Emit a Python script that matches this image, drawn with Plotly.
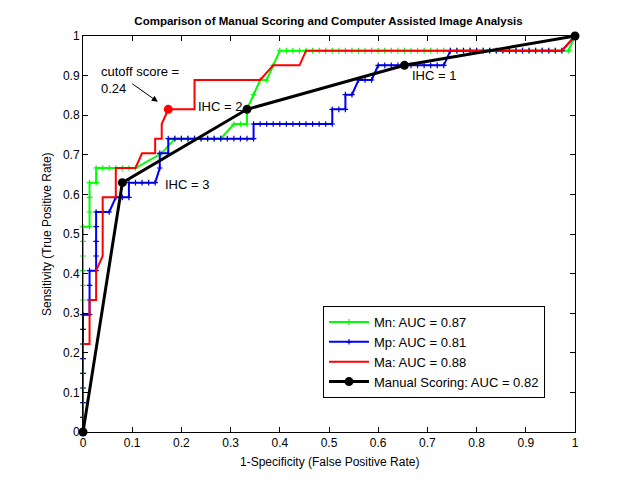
import plotly.graph_objects as go

N_NEG = 75
N_POS = 27

# Mn (green): false-positive counts / true-positive counts along the ROC curve
MN_FP = [0, 0, 0, 0, 0, 0, 0, 0, 0, 0, 0, 0, 0, 0, 0,
         1, 1, 1, 1, 2, 2, 3, 4, 5, 6, 7, 8, 12,
         14, 15, 16, 17, 18, 19, 20, 21, 23, 24, 25, 25, 26, 27, 28, 29, 30,
         31, 32, 33, 34, 35, 36, 37, 38, 39, 40, 41, 42, 43, 44, 45, 46, 47, 48, 49, 50,
         51, 52, 53, 54, 55, 56, 57, 58, 59, 60, 61, 62, 63, 64, 65, 66, 67, 68, 69, 70,
         71, 72, 73, 74, 75]
MN_TP = [0, 1, 2, 3, 4, 5, 6, 7, 8, 9, 10, 11, 12, 13, 14,
         14, 15, 16, 17, 17, 18, 18, 18, 18, 18, 18, 18, 19,
         20, 20, 20, 20, 20, 20, 20, 20, 21, 21, 21, 22, 23, 24, 24, 25, 26,
         26, 26, 26, 26, 26, 26, 26, 26, 26, 26, 26, 26, 26, 26, 26, 26, 26, 26, 26, 26,
         26, 26, 26, 26, 26, 26, 26, 26, 26, 26, 26, 26, 26, 26, 26, 26, 26, 26, 26, 26,
         26, 26, 26, 26, 27]

# Mp (blue)
MP_FP = [0, 0, 0, 0, 0, 0, 0, 0, 0,
         1, 1, 1, 1, 2, 2, 2, 2, 2, 3, 4, 5, 6, 7, 7, 8, 9, 10, 11, 11.7, 11.7, 13, 13,
         14, 15, 16, 17, 18, 19, 20, 21, 22, 23, 24, 25, 26, 26,
         27, 28, 29, 30, 31, 32, 33, 34, 35, 36, 37, 38, 38, 39, 40, 40, 41, 42, 43, 44,
         45, 46, 47, 48, 49, 50, 51, 52, 53, 54, 55, 56,
         57, 58, 59, 60, 61, 62, 63, 64, 65, 66, 67, 68, 69, 70, 71, 72, 73, 75]
MP_TP = [0, 1, 2, 3, 4, 5, 6, 7, 8,
         8, 9, 10, 11, 11, 12, 13, 14, 15, 15, 15, 16, 16, 16, 17, 17, 17, 17, 17, 18, 19, 19, 20,
         20, 20, 20, 20, 20, 20, 20, 20, 20, 20, 20, 20, 20, 21,
         21, 21, 21, 21, 21, 21, 21, 21, 21, 21, 21, 21, 22, 22, 22, 23, 23, 24, 24, 24,
         25, 25, 25, 25, 25, 25, 25, 25, 25, 25, 25, 26,
         26, 26, 26, 26, 26, 26, 26, 26, 26, 26, 26, 26, 26, 26, 26, 26, 26, 27]

# Ma (red)
MA_FP = [0, 0, 1, 1, 2, 2, 3, 3, 5, 5, 8, 9, 11, 11, 12, 12, 13, 17, 17, 27, 29, 33, 34, 73, 75]
MA_TP = [0, 6, 6, 9, 9, 11, 12, 16, 16, 18, 18, 19, 19, 20, 20, 21, 22, 22, 24, 24, 25, 25, 26, 26, 27]

# Manual scoring (black)
MAN_FP = [0, 6, 25, 49, 75]
MAN_TP = [0, 17, 22, 25, 27]

CUTOFF_FP = [13]
CUTOFF_TP = [22]

TICK_VALS = [0, 0.1, 0.2, 0.3, 0.4, 0.5, 0.6, 0.7, 0.8, 0.9, 1]
TICK_TEXT = ["0", "0.1", "0.2", "0.3", "0.4", "0.5", "0.6", "0.7", "0.8", "0.9", "1"]


def fpr(v):
    return [a / N_NEG for a in v]


def tpr(v):
    return [a / N_POS for a in v]


FONT = "Liberation Sans, Arial, sans-serif"
MK = dict(symbol="cross-thin", size=4)

fig = go.Figure()
fig.add_trace(go.Scatter(
    x=fpr(MN_FP), y=tpr(MN_TP), mode="lines+markers", name="Mn: AUC = 0.87",
    line=dict(color="#00ff00", width=2),
    marker=dict(**MK, line=dict(width=1.2, color="#00ff00")),
    cliponaxis=False))
fig.add_trace(go.Scatter(
    x=fpr(MP_FP), y=tpr(MP_TP), mode="lines+markers", name="Mp: AUC = 0.81",
    line=dict(color="#0000ff", width=2),
    marker=dict(**MK, line=dict(width=1.2, color="#0000cc")),
    cliponaxis=False))
fig.add_trace(go.Scatter(
    x=fpr(MA_FP), y=tpr(MA_TP), mode="lines", name="Ma: AUC = 0.88",
    line=dict(color="#ff0000", width=2), cliponaxis=False))
fig.add_trace(go.Scatter(
    x=fpr(MAN_FP), y=tpr(MAN_TP), mode="lines+markers", name="Manual Scoring: AUC = 0.82",
    line=dict(color="black", width=3),
    marker=dict(symbol="circle", size=9, color="black"), cliponaxis=False))
fig.add_trace(go.Scatter(
    x=fpr(CUTOFF_FP), y=tpr(CUTOFF_TP), mode="markers", showlegend=False,
    marker=dict(symbol="circle", size=9, color="#ff0000"), cliponaxis=False))

AF = dict(size=13, family=FONT, color="black")
annots = [
    dict(x=0.0325, y=0.889, xref="x", yref="y", text="cutoff score =<br>0.24",
         showarrow=False, xanchor="left", yanchor="middle", align="left", font=AF),
    dict(x=0.152, y=0.834, xref="x", yref="y", text="", showarrow=True,
         ax=-27, ay=-19, arrowhead=2, arrowsize=1.2, arrowwidth=1, arrowcolor="black"),
    dict(x=0.2297, y=0.821, xref="x", yref="y", text="IHC = 2", showarrow=False,
         xanchor="left", yanchor="middle", font=AF),
    dict(x=0.1626, y=0.626, xref="x", yref="y", text="IHC = 3", showarrow=False,
         xanchor="left", yanchor="middle", font=AF),
    dict(x=0.6646, y=0.9, xref="x", yref="y", text="IHC = 1", showarrow=False,
         xanchor="left", yanchor="middle", font=AF),
    dict(x=0.5, y=-0.0758, xref="paper", yref="paper", text="1-Specificity (False Positive Rate)",
         showarrow=False, xanchor="center", yanchor="middle"),
    dict(x=-0.0732, y=0.5, xref="paper", yref="paper", text="Sensitivity (True Positive Rate)",
         showarrow=False, xanchor="center", yanchor="middle", textangle=-90),
]

axis_common = dict(
    range=[0, 1], tickvals=TICK_VALS, ticktext=TICK_TEXT, ticks="inside", ticklen=5,
    tickcolor="black", showline=True, linecolor="black", linewidth=1, mirror="ticks",
    showgrid=False, zeroline=False, tickfont=dict(size=12, color="black", family=FONT),
)

fig.update_layout(
    width=635, height=485,
    margin=dict(l=75, r=68, t=28, b=61),
    paper_bgcolor="white", plot_bgcolor="white",
    font=dict(family=FONT, size=12, color="black"),
    title=dict(text="<b>Comparison of Manual Scoring and Computer Assisted Image Analysis</b>",
               x=0.5047, xanchor="center", y=1 - 13 / 485, yanchor="middle", yref="container",
               font=dict(size=11.5, family=FONT, color="black")),
    xaxis=axis_common, yaxis=axis_common,
    annotations=annots,
    legend=dict(x=0.939, xanchor="right", y=0.086, yanchor="bottom",
                bgcolor="white", bordercolor="black", borderwidth=1,
                font=dict(size=13, family=FONT, color="black"),
                itemwidth=40, tracegroupgap=0),
    showlegend=True,
)

fig.write_html("out.html")
